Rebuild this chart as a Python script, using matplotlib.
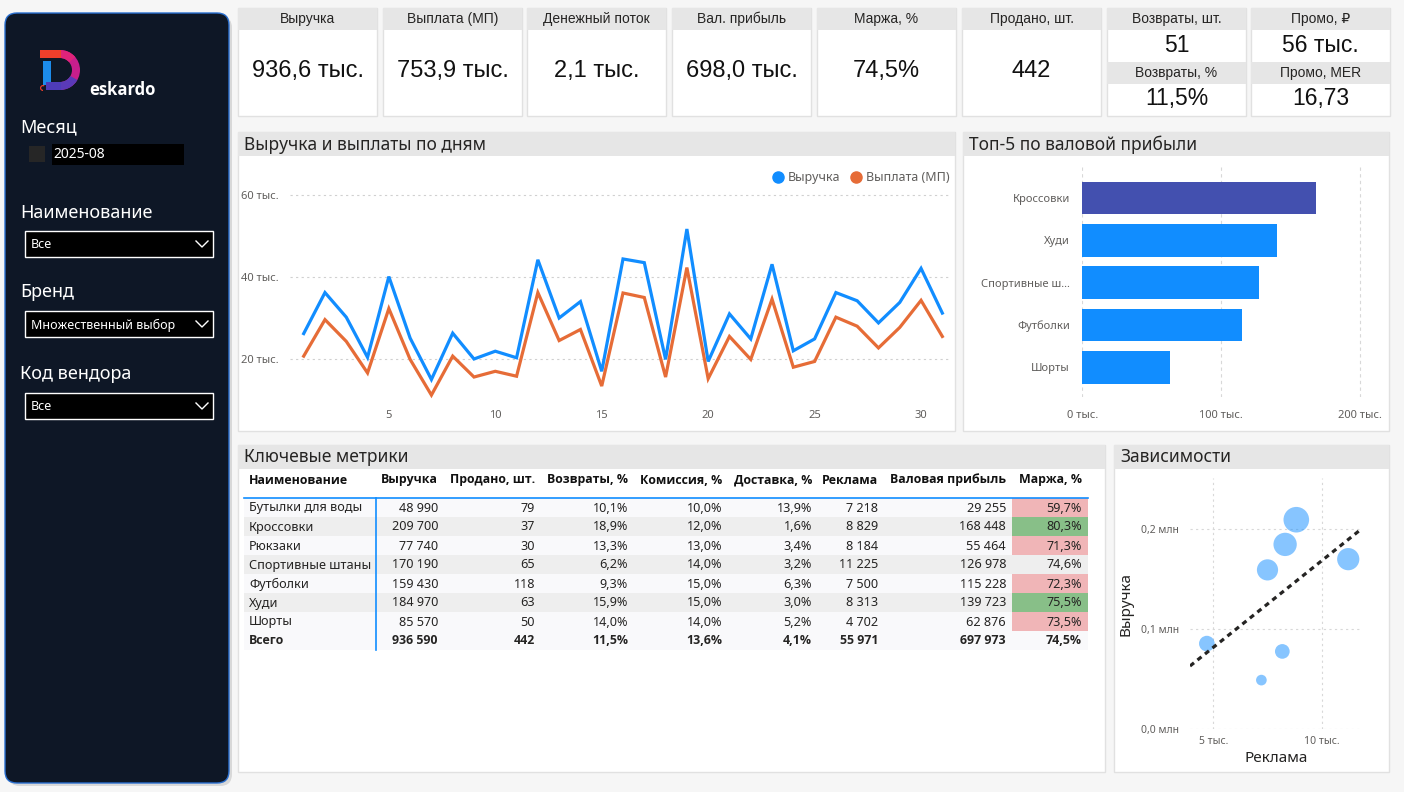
import numpy as np
import matplotlib
matplotlib.use("Agg")
import matplotlib.pyplot as plt
from matplotlib.patches import Rectangle, FancyBboxPatch, Wedge
from matplotlib.lines import Line2D
from matplotlib.ticker import FuncFormatter, FixedLocator

# ---------------- DATA ----------------
days = list(range(1, 32))
revenue_daily_k = [26.2, 36.2, 30.2, 20.4, 40.1, 25.1, 15.0, 26.3, 20.0, 21.9, 20.3, 44.2, 30.0, 34.0, 17.0,
                   44.4, 43.5, 19.9, 51.7, 19.4, 31.0, 24.9, 43.1, 22.0, 24.9, 36.2, 34.2, 28.8, 33.8, 42.1, 31.2]
payout_daily_k = [20.7, 29.6, 24.3, 16.6, 32.3, 19.9, 11.2, 20.7, 15.6, 17.0, 15.8, 36.2, 24.5, 27.2, 13.4,
                  36.1, 35.0, 15.6, 42.3, 15.2, 25.5, 19.9, 34.6, 18.0, 19.4, 30.2, 28.0, 22.7, 27.7, 34.3, 25.5]

products = ["Бутылки для воды", "Кроссовки", "Рюкзаки", "Спортивные штаны", "Футболки", "Худи", "Шорты"]
revenue = [48990, 209700, 77740, 170190, 159430, 184970, 85570]
sold = [79, 37, 30, 65, 118, 63, 50]
returns_pct = [10.1, 18.9, 13.3, 6.2, 9.3, 15.9, 14.0]
commission_pct = [10.0, 12.0, 13.0, 14.0, 15.0, 15.0, 14.0]
delivery_pct = [13.9, 1.6, 3.4, 3.2, 6.3, 3.0, 5.2]
ads = [7218, 8829, 8184, 11225, 7500, 8313, 4702]
gross_profit = [29255, 168448, 55464, 126978, 115228, 139723, 62876]
margin_pct = [59.7, 80.3, 71.3, 74.6, 72.3, 75.5, 73.5]
margin_flag = ["low", "high", "low", "none", "low", "high", "low"]
total_row = ["Всего", "936 590", "442", "11,5%", "13,6%", "4,1%", "55 971", "697 973", "74,5%"]
table_headers = ["Наименование", "Выручка", "Продано, шт.", "Возвраты, %", "Комиссия, %",
                 "Доставка, %", "Реклама", "Валовая прибыль", "Маржа, %"]

kpi_titles = ["Выручка", "Выплата (МП)", "Денежный поток", "Вал. прибыль", "Маржа, %", "Продано, шт."]
kpi_values = ["936,6 тыс.", "753,9 тыс.", "2,1 тыс.", "698,0 тыс.", "74,5%", "442"]
split_titles = [("Возвраты, шт.", "Возвраты, %"), ("Промо, ₽", "Промо, MER")]
split_values = [("51", "11,5%"), ("56 тыс.", "16,73")]

filter_labels = ["Наименование", "Бренд", "Код вендора"]
filter_values = ["Все", "Множественный выбор", "Все"]
month_value = "2025-08"

# ---------------- STYLE ----------------
W, H = 1404, 792
BG = "#F6F6F6"
BLUE = "#118DFF"
ORANGE = "#E66C37"
DARKBLUE = "#4350AF"
GRAY_TXT = "#605E5C"
HEAD_BG = "#E6E6E6"
TXT = "#252423"
UI = ["Noto Sans", "DejaVu Sans"]
BOLD = ["Open Sans", "DejaVu Sans"]
NARROW = ["Liberation Sans Narrow", "Liberation Sans", "DejaVu Sans"]
plt.rcParams["font.family"] = UI

fig = plt.figure(figsize=(W / 100, H / 100), dpi=100, facecolor=BG)

bg = fig.add_axes([0, 0, 1, 1])
bg.set_xlim(0, W)
bg.set_ylim(H, 0)
bg.axis("off")


def px_axes(x0, y0, x1, y1):
    ax = fig.add_axes([x0 / W, 1 - y1 / H, (x1 - x0) / W, (y1 - y0) / H])
    ax.set_facecolor("none")
    return ax


def panel(x0, y0, x1, y1, title=None, head_h=24):
    bg.add_patch(Rectangle((x0, y0), x1 - x0, y1 - y0, facecolor="white", edgecolor="#E1E1E1", lw=1))
    if title is not None:
        bg.add_patch(Rectangle((x0, y0), x1 - x0, head_h, facecolor=HEAD_BG, edgecolor="none"))
        bg.text(x0 + 6, y0 + head_h / 2 + 0.5, title, fontsize=12.5, color=TXT, va="center", ha="left")


# ---------------- SIDEBAR ----------------
bg.add_patch(FancyBboxPatch((8, 16), 224, 770, boxstyle="round,pad=0,rounding_size=12",
                            facecolor="#000000", edgecolor="none", alpha=0.12))
bg.add_patch(FancyBboxPatch((5, 13), 224, 770, boxstyle="round,pad=0,rounding_size=12",
                            facecolor="#0E1726", edgecolor="#2A6FD0", lw=1))

# logo
bg.add_patch(Wedge((60, 70), 20, -90, 90, width=8, facecolor="#C81E8C", edgecolor="none"))
bg.add_patch(Wedge((60, 70), 20, 30, 90, width=8, facecolor="#5A3AB8", edgecolor="none"))
bg.add_patch(Wedge((60, 70), 20, -90, -40, width=8, facecolor="#E0237A", edgecolor="none"))
bg.add_patch(Rectangle((40, 50), 21, 8, facecolor="#EE3F2B", edgecolor="none"))
bg.add_patch(Rectangle((43, 61), 8, 24, facecolor="#1C8CEB", edgecolor="none"))
bg.add_patch(Rectangle((46, 82), 15, 8, facecolor="#4E3CB8", edgecolor="none"))
bg.add_patch(Wedge((43, 88), 3, 90, 300, width=1.2, facecolor="#EE3F2B", edgecolor="none"))
bg.text(89, 90, "eskardo", color="white", fontsize=12, fontweight="bold", family=BOLD,
        va="center", ha="left")

bg.text(20, 127, "Месяц", color="white", fontsize=13, va="center", ha="left")
bg.add_patch(Rectangle((29, 146), 16, 16, facecolor="#262626", edgecolor="none"))
bg.add_patch(Rectangle((52, 144), 132, 21, facecolor="black", edgecolor="none"))
bg.text(53, 155, month_value, color="white", fontsize=10, va="center", ha="left")

for i, (lab, val) in enumerate(zip(filter_labels, filter_values)):
    ty = [213, 292, 374][i]
    by = [231, 311, 393][i]
    bg.text(20, ty, lab, color="white", fontsize=13, va="center", ha="left")
    bg.add_patch(Rectangle((25, by), 188, 26, facecolor="black", edgecolor="white", lw=1))
    bg.text(31, by + 14, val, color="white", fontsize=9, va="center", ha="left")
    bg.plot([196, 202, 208], [by + 10, by + 16, by + 10], color="white", lw=1)

# ---------------- KPI CARDS ----------------
card_x = [238, 383, 527, 672, 817, 962, 1107, 1251]
cw = 139
for i, (t, v) in enumerate(zip(kpi_titles, kpi_values)):
    x0 = card_x[i]
    bg.add_patch(Rectangle((x0, 8), cw, 108, facecolor="white", edgecolor="#E1E1E1", lw=1))
    bg.add_patch(Rectangle((x0, 8), cw, 22, facecolor=HEAD_BG, edgecolor="none"))
    bg.text(x0 + cw / 2, 19, t, fontsize=10, color=TXT, ha="center", va="center", family=NARROW)
    bg.text(x0 + cw / 2, 71, v, fontsize=17, color="#111111", ha="center", va="center", family=NARROW)

for j, (tt, vv) in enumerate(zip(split_titles, split_values)):
    x0 = card_x[6 + j]
    bg.add_patch(Rectangle((x0, 8), cw, 108, facecolor="white", edgecolor="#E1E1E1", lw=1))
    bg.add_patch(Rectangle((x0, 8), cw, 22, facecolor=HEAD_BG, edgecolor="none"))
    bg.add_patch(Rectangle((x0, 62), cw, 22, facecolor=HEAD_BG, edgecolor="none"))
    bg.text(x0 + cw / 2, 19, tt[0], fontsize=10, color=TXT, ha="center", va="center", family=NARROW)
    bg.text(x0 + cw / 2, 45, vv[0], fontsize=16.5, color="#111111", ha="center", va="center", family=NARROW)
    bg.text(x0 + cw / 2, 73, tt[1], fontsize=10, color=TXT, ha="center", va="center", family=NARROW)
    bg.text(x0 + cw / 2, 99, vv[1], fontsize=16.5, color="#111111", ha="center", va="center", family=NARROW)

# ---------------- LINE CHART ----------------
panel(238, 132, 955, 431, "Выручка и выплаты по дням")
ax1 = px_axes(290, 182, 950, 400)
ax1.plot(days, np.array(revenue_daily_k) * 1000, color=BLUE, lw=2.3, label="Выручка", solid_joinstyle="miter")
ax1.plot(days, np.array(payout_daily_k) * 1000, color=ORANGE, lw=2.3, label="Выплата (МП)", solid_joinstyle="miter")
ax1.set_xlim(0.357, 31.36)
ax1.set_ylim(10000, 63170)
ax1.yaxis.set_major_locator(FixedLocator([20000, 40000, 60000]))
ax1.xaxis.set_major_locator(FixedLocator([5, 10, 15, 20, 25, 30]))
ax1.yaxis.set_major_formatter(FuncFormatter(lambda v, p: f"{int(v / 1000)} тыс."))
ax1.grid(axis="y", color="#D0D0D0", lw=0.8, ls=(0, (2, 3)))
for s in ax1.spines.values():
    s.set_visible(False)
ax1.tick_params(length=0, labelsize=8, labelcolor=GRAY_TXT)
ax1.tick_params(axis="y", pad=8)
ax1.tick_params(axis="x", pad=7)
handles = [Line2D([], [], marker="o", ls="", color=BLUE, markersize=8),
           Line2D([], [], marker="o", ls="", color=ORANGE, markersize=8)]
ax1.legend(handles, ["Выручка", "Выплата (МП)"], ncol=2, frameon=False, loc="lower right",
           bbox_to_anchor=(1.0, 0.99), borderaxespad=0, handletextpad=-0.2, columnspacing=0.3,
           fontsize=9, labelcolor=GRAY_TXT, borderpad=0)

# ---------------- TOP-5 BAR ----------------
panel(963, 132, 1389, 431, "Топ-5 по валовой прибыли")
order = np.argsort(gross_profit)[::-1][:5]
top_names = [products[i] for i in order]
top_vals = [gross_profit[i] for i in order]
top_labels = [n if len(n) <= 13 else n[:12] + "…" for n in top_names]
ax2 = px_axes(1082.3, 166, 1368, 397)
colors = [DARKBLUE] + [BLUE] * (len(top_vals) - 1)
ax2.barh(range(len(top_vals)), top_vals, height=0.77, color=colors, edgecolor="none")
ax2.set_ylim(4.70, -0.757)
ax2.set_xlim(0, 205500)
ax2.set_yticks(range(len(top_vals)))
ax2.set_yticklabels(top_labels)
ax2.xaxis.set_major_locator(FixedLocator([0, 100000, 200000]))
ax2.xaxis.set_major_formatter(FuncFormatter(lambda v, p: f"{int(v / 1000)} тыс."))
ax2.grid(axis="x", color="#D8D8D8", lw=0.8, ls=(0, (3, 3)))
ax2.set_axisbelow(True)
for s in ax2.spines.values():
    s.set_visible(False)
ax2.tick_params(length=0, labelsize=8, labelcolor=GRAY_TXT)
ax2.tick_params(axis="y", pad=9)
ax2.tick_params(axis="x", pad=9)

# ---------------- TABLE ----------------
panel(238, 445, 1105, 772, "Ключевые метрики")


def fi(v):
    return f"{v:,.0f}".replace(",", " ")


def fp(v):
    return f"{v:.1f}%".replace(".", ",")


col_right = [None, 438, 535, 628, 722, 812, 878, 1006, 1082]
name_x = 249
for k, h in enumerate(table_headers):
    if k == 0:
        bg.text(name_x, 480, h, fontsize=8.9, fontweight="bold", family=BOLD, color="#111111",
                ha="left", va="center")
    else:
        bg.text(col_right[k], 480, h, fontsize=8.9, fontweight="bold", family=BOLD, color="#111111",
                ha="right", va="center")

fill_map = {"low": "#F0B5B7", "high": "#88BF88"}
n = len(products)
for i in range(n + 1):
    y0 = 498 + 19 * i
    rowc = "#EEEEEE" if (i % 2 == 1 and i < n) else "#F9F9FB"
    bg.add_patch(Rectangle((244, y0), 844, 19, facecolor=rowc, edgecolor="none"))
    if i < n:
        if margin_flag[i] in fill_map:
            bg.add_patch(Rectangle((1012, y0), 76, 19, facecolor=fill_map[margin_flag[i]], edgecolor="none"))
        cells = [products[i], fi(revenue[i]), str(sold[i]), fp(returns_pct[i]), fp(commission_pct[i]),
                 fp(delivery_pct[i]), fi(ads[i]), fi(gross_profit[i]), fp(margin_pct[i])]
        fam, wt, fs = UI, "normal", 9.1
    else:
        cells = total_row
        fam, wt, fs = BOLD, "bold", 8.9
    yc = y0 + 10
    for k, c in enumerate(cells):
        if k == 0:
            bg.text(name_x, yc, c, fontsize=fs, fontweight=wt, family=fam, color="#252423",
                    ha="left", va="center")
        else:
            bg.text(col_right[k], yc, c, fontsize=fs, fontweight=wt, family=fam, color="#252423",
                    ha="right", va="center")
bg.plot([244, 1088], [497.5, 497.5], color=BLUE, lw=1.2)
bg.plot([375.5, 375.5], [497.5, 650], color=BLUE, lw=1.2)

# ---------------- SCATTER ----------------
panel(1114, 445, 1389, 772, "Зависимости")
ax3 = px_axes(1190, 478, 1362, 729)
ads_k = np.array(ads) / 1000
rev_m = np.array(revenue) / 1e6
sizes = 340 * np.array(gross_profit) / max(gross_profit)
ax3.scatter(ads_k, rev_m, s=sizes, color=BLUE, alpha=0.5, edgecolors="none", zorder=3)
ax3.set_xlim(3.925, 11.86)
ax3.set_ylim(0, 0.2515)
coef = np.polyfit(ads_k, rev_m, 1)
xx = np.array(ax3.get_xlim())
ax3.plot(xx, np.polyval(coef, xx), color="#252423", lw=2.3, ls=(0, (1.6, 1.4)), zorder=4)
ax3.xaxis.set_major_locator(FixedLocator([5, 10]))
ax3.yaxis.set_major_locator(FixedLocator([0.0, 0.1, 0.2]))
ax3.xaxis.set_major_formatter(FuncFormatter(lambda v, p: f"{int(round(v))} тыс."))
ax3.yaxis.set_major_formatter(FuncFormatter(lambda v, p: f"{v:.1f} млн".replace(".", ",")))
ax3.grid(True, color="#D8D8D8", lw=0.8, ls=(0, (2, 3)))
ax3.set_axisbelow(True)
for s in ax3.spines.values():
    s.set_visible(False)
ax3.tick_params(length=0, labelsize=7.5, labelcolor=GRAY_TXT)
ax3.tick_params(axis="y", pad=8)
ax3.tick_params(axis="x", pad=5)
ax3.set_xlabel("Реклама", fontsize=11, color=TXT, labelpad=3)
ax3.set_ylabel("Выручка", fontsize=11, color=TXT, labelpad=5)

fig.savefig("out.png", dpi=100, facecolor=BG)
